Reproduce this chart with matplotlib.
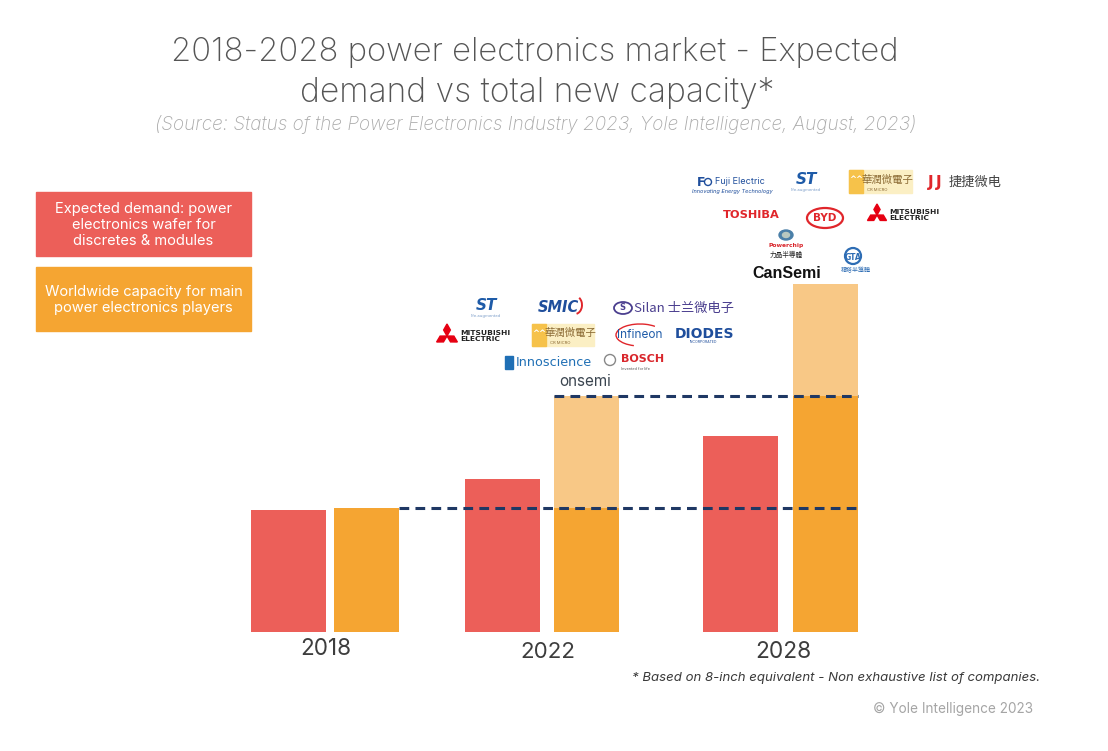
import matplotlib
matplotlib.use("Agg")
import matplotlib.pyplot as plt
from matplotlib.patches import Rectangle, Ellipse, Polygon, Circle, Arc
import numpy as np

plt.rcParams['lines.scale_dashes'] = False

# ---------------- data ----------------
years = ['2018', '2022', '2028']
demand = [0.98, 1.23, 1.58]            # expected demand (relative, 2018 capacity = 1)
capacity_existing = [1.00, 1.00, 1.90]  # capacity already available
capacity_total = [1.00, 1.90, 2.81]     # total capacity incl. new capacity
capacity_new = [t - e for t, e in zip(capacity_total, capacity_existing)]

legend_labels = ['Expected demand: power\nelectronics wafer for\ndiscretes & modules',
                 'Worldwide capacity for main\npower electronics players']

# ---------------- style ----------------
RED = '#EC5F59'
ORANGE = '#F5A532'
LIGHT_OR = '#F8C886'
NAVY = '#1F3864'
FONT = 'Inter'

W, H = 1108, 751
fig = plt.figure(figsize=(W / 100, H / 100), dpi=100)
fig.patch.set_facecolor('white')

# bar axes: x in pixel-like layout units, baseline at y=632 px
base_px = 632
unit_px = 124.0
ax = fig.add_axes([0, (H - base_px) / H, 1, base_px / H])
ax.set_xlim(0, W)
ax.set_ylim(0, base_px / unit_px)
ax.axis('off')

red_x = [288.5, 502, 740.5]
org_x = [366.5, 586.5, 825.5]
red_w = 75
org_w = 65

ax.bar(red_x, demand, width=red_w, color=RED, zorder=2)
ax.bar(org_x, capacity_existing, width=org_w, color=ORANGE, zorder=2)
ax.bar(org_x, capacity_new, bottom=capacity_existing, width=org_w, color=LIGHT_OR, zorder=2)

# dashed reference lines at existing capacity levels
ax.plot([org_x[0] + org_w / 2, org_x[2] + org_w / 2], [capacity_existing[0]] * 2,
        color=NAVY, lw=2.2, dashes=(7, 4.5), zorder=3)
ax.plot([org_x[1] - org_w / 2, org_x[2] + org_w / 2], [capacity_total[1]] * 2,
        color=NAVY, lw=2.2, dashes=(7, 4.5), zorder=3)

# ---------------- overlay (pixel coordinates, y down) ----------------
ov = fig.add_axes([0, 0, 1, 1], zorder=5)
ov.set_xlim(0, W)
ov.set_ylim(H, 0)
ov.axis('off')
ov.patch.set_alpha(0)

fig.canvas.draw()
renderer = fig.canvas.get_renderer()


def fit(t, target_w):
    bb = t.get_window_extent(renderer)
    if bb.width > 0:
        t.set_fontsize(t.get_fontsize() * target_w / bb.width)
    return t


# titles
t1 = ov.text(535, 53, '2018-2028 power electronics market - Expected', ha='center', va='center',
             fontsize=22, color='#555555', family=FONT, weight='light')
fit(t1, 726)
t2 = ov.text(537, 93, 'demand vs total new capacity*', ha='center', va='center',
             fontsize=22, color='#555555', family=FONT, weight='light')
fit(t2, 473)
t3 = ov.text(536, 125, '(Source: Status of the Power Electronics Industry 2023, Yole Intelligence, August, 2023)',
             ha='center', va='center', fontsize=12, color='#a9a9a9', family=FONT, style='italic',
             weight='light')
fit(t3, 761)

# legend boxes
ov.add_patch(Rectangle((36, 192), 215, 64, color=RED))
ov.add_patch(Rectangle((36, 267), 215, 64, color=ORANGE))
l1 = ov.text(143.5, 225, legend_labels[0], ha='center', va='center', color='white', fontsize=9.3,
             family=FONT, linespacing=1.2)
l2 = ov.text(143.5, 300, legend_labels[1], ha='center', va='center', color='white', fontsize=9.3,
             family=FONT, linespacing=1.2)
fit(l1, 177)
fit(l2, 198)

# year labels
for x, y, lab, w in [(326, 649, years[0], 51), (548, 652, years[1], 55), (783, 652, years[2], 56)]:
    t = ov.text(x, y, lab, ha='center', va='center', fontsize=15, color='#3d3d3d', family=FONT)
    fit(t, w)

# footnotes
tf = ov.text(1040, 678, '* Based on 8-inch equivalent - Non exhaustive list of companies.', ha='right',
             va='center', fontsize=8.5, color='#3a3a3a', family=FONT, style='italic')
fit(tf, 409)
tc = ov.text(1033, 709, '\u00a9 Yole Intelligence 2023', ha='right', va='center', fontsize=9,
             color='#a5a5a5', family=FONT)
fit(tc, 160)

# ---------------- logos (approximated with text & shapes) ----------------
CJK_SC = ['Noto Sans CJK SC', 'DejaVu Sans']
CJK_TC = ['Noto Sans CJK TC', 'DejaVu Sans']


def mitsubishi(cx, cy, s, tx):
    def diamond(ang):
        a = np.deg2rad(ang)
        d = np.array([np.cos(a), -np.sin(a)])
        n = np.array([-d[1], d[0]])
        c = np.array([cx, cy]) + d * s * 0.25
        pts = [c + d * s * 0.25, c + n * s * 0.14, c - d * s * 0.25, c - n * s * 0.14]
        ov.add_patch(Polygon(pts, closed=True, color='#E60012'))
    for ang in (90, 210, 330):
        diamond(ang)
    ov.text(tx, cy, 'MITSUBISHI\nELECTRIC', ha='left', va='center', fontsize=5.4, weight='bold',
            color='#222222', family='Liberation Sans Narrow', linespacing=0.95)


def st_logo(cx, cy, fs):
    ov.text(cx, cy, 'ST', ha='center', va='center', fontsize=fs, weight='bold', style='italic',
            color='#1E5BA8', family='DejaVu Sans')
    ov.text(cx, cy + fs * 0.9, 'life.augmented', ha='center', va='center', fontsize=3, color='#7a9cc8',
            family=FONT)


def crmicro(x0, y0, w, h):
    ov.add_patch(Rectangle((x0, y0), w, h, color='#FBEFC4'))
    ov.add_patch(Rectangle((x0, y0), 14, h, color='#F6C24A'))
    ov.text(x0 + 7, y0 + h * 0.42, '^^', ha='center', va='center', fontsize=6, color='white',
            weight='bold', family='DejaVu Sans')
    ov.text(x0 + 14 + (w - 14) / 2, y0 + h * 0.42, '華潤微電子', ha='center', va='center', fontsize=7.5,
            color='#8B6A34', family=CJK_TC)
    ov.text(x0 + 14 + (w - 14) / 2 - 10, y0 + h * 0.85, 'CR MICRO', ha='center', va='center',
            fontsize=3, color='#8B6A34', family=FONT)


# --- 2022 cluster ---
st_logo(486, 306, 11)
ov.text(558, 307, 'SMIC', ha='center', va='center', fontsize=10.5, weight='bold', style='italic',
        color='#1F4E9C', family='DejaVu Sans')
ov.add_patch(Arc((575, 305), 14, 18, theta1=-60, theta2=80, color='#E0262B', lw=1.4))
ov.add_patch(Ellipse((623, 308), 18, 12, fill=False, ec='#4B3F8F', lw=1.3))
ov.text(622, 308, 'S', ha='center', va='center', fontsize=6, color='#4B3F8F', weight='bold')
ov.text(634, 308, 'Silan 士兰微电子', ha='left', va='center', fontsize=9.5, color='#4B3F8F',
        family=CJK_SC)
mitsubishi(447, 336, 24, 460)
crmicro(532, 324, 62, 22)
ov.add_patch(Arc((640, 335), 48, 22, theta1=120, theta2=330, color='#E0262B', lw=1.0))
ov.text(640, 335, 'Infineon', ha='center', va='center', fontsize=8.5, color='#1E5BA8', family=FONT)
ov.text(704, 334, 'DIODES', ha='center', va='center', fontsize=10, weight='bold', color='#1F4E9C',
        family='Liberation Sans Narrow')
ov.text(704, 342, 'INCORPORATED', ha='center', va='center', fontsize=2.5, color='#1F4E9C', family=FONT)
ov.add_patch(Rectangle((505, 356), 8, 13, color='#1F6FB5'))
ov.text(516, 362, 'Innoscience', ha='left', va='center', fontsize=9.2, color='#1F6FB5',
        family='Liberation Sans Narrow')
ov.add_patch(Circle((610, 360), 5.5, fill=False, ec='#888888', lw=1.0))
ov.text(621, 359, 'BOSCH', ha='left', va='center', fontsize=8, weight='bold', color='#D9262C',
        family='DejaVu Sans')
ov.text(621, 369, 'Invented for life', ha='left', va='center', fontsize=2.8, color='#555555', family=FONT)
ov.text(585, 382, 'onsemi', ha='center', va='center', fontsize=11, color='#3B4550', family=FONT)

# --- 2028 cluster ---
ov.text(701, 182, 'F', ha='center', va='center', fontsize=9, weight='bold', color='#1F4E9C',
        family='DejaVu Sans')
ov.add_patch(Circle((708, 182), 3.5, fill=False, ec='#1F4E9C', lw=1.0))
ov.text(715, 181, 'Fuji Electric', ha='left', va='center', fontsize=6.5, color='#1F4E9C', family=FONT)
ov.text(692, 192, 'Innovating Energy Technology', ha='left', va='center', fontsize=4, style='italic',
        color='#1F4E9C', family=FONT)
st_logo(806, 180, 11)
crmicro(849, 170, 63, 23)
ov.text(931, 183, 'J', ha='center', va='center', fontsize=11, weight='bold', color='#E0262B',
        family='DejaVu Sans')
ov.text(939, 183, 'J', ha='center', va='center', fontsize=11, weight='bold', color='#E0262B',
        family='DejaVu Sans')
ov.text(949, 182, '捷捷微电', ha='left', va='center', fontsize=9.5, color='#444444', family=CJK_SC)
ov.text(751, 215, 'TOSHIBA', ha='center', va='center', fontsize=8.2, weight='bold', color='#E0262B',
        family='DejaVu Sans')
ov.add_patch(Ellipse((825, 218), 36, 20, fill=False, ec='#E0262B', lw=1.6))
ov.text(825, 218, 'BYD', ha='center', va='center', fontsize=7.5, weight='bold', color='#E0262B',
        family='DejaVu Sans')
mitsubishi(877, 215, 22, 889)
ov.add_patch(Ellipse((786, 235), 14, 10, color='#4A7FA8'))
ov.add_patch(Ellipse((786, 235), 7, 5, color='#B8C8C0'))
ov.text(786, 246, 'Powerchip', ha='center', va='center', fontsize=4.3, weight='bold', color='#D9262C',
        family='DejaVu Sans')
ov.text(786, 255, '力晶半導體', ha='center', va='center', fontsize=4.8, color='#222222', family=CJK_TC)
ov.add_patch(Circle((853, 256), 8, fill=False, ec='#2E6DB4', lw=1.6))
ov.text(853, 257, 'GTA', ha='center', va='center', fontsize=5.5, weight='bold', color='#2E6DB4',
        family='DejaVu Sans')
ov.text(856, 270, '積塔半導體', ha='center', va='center', fontsize=4.3, color='#2E6DB4', family=CJK_TC)
ov.text(787, 274, 'CanSemi', ha='center', va='center', fontsize=11.5, weight='bold', color='#111111',
        family='Liberation Sans')

fig.savefig('out.png', dpi=100, facecolor='white')
